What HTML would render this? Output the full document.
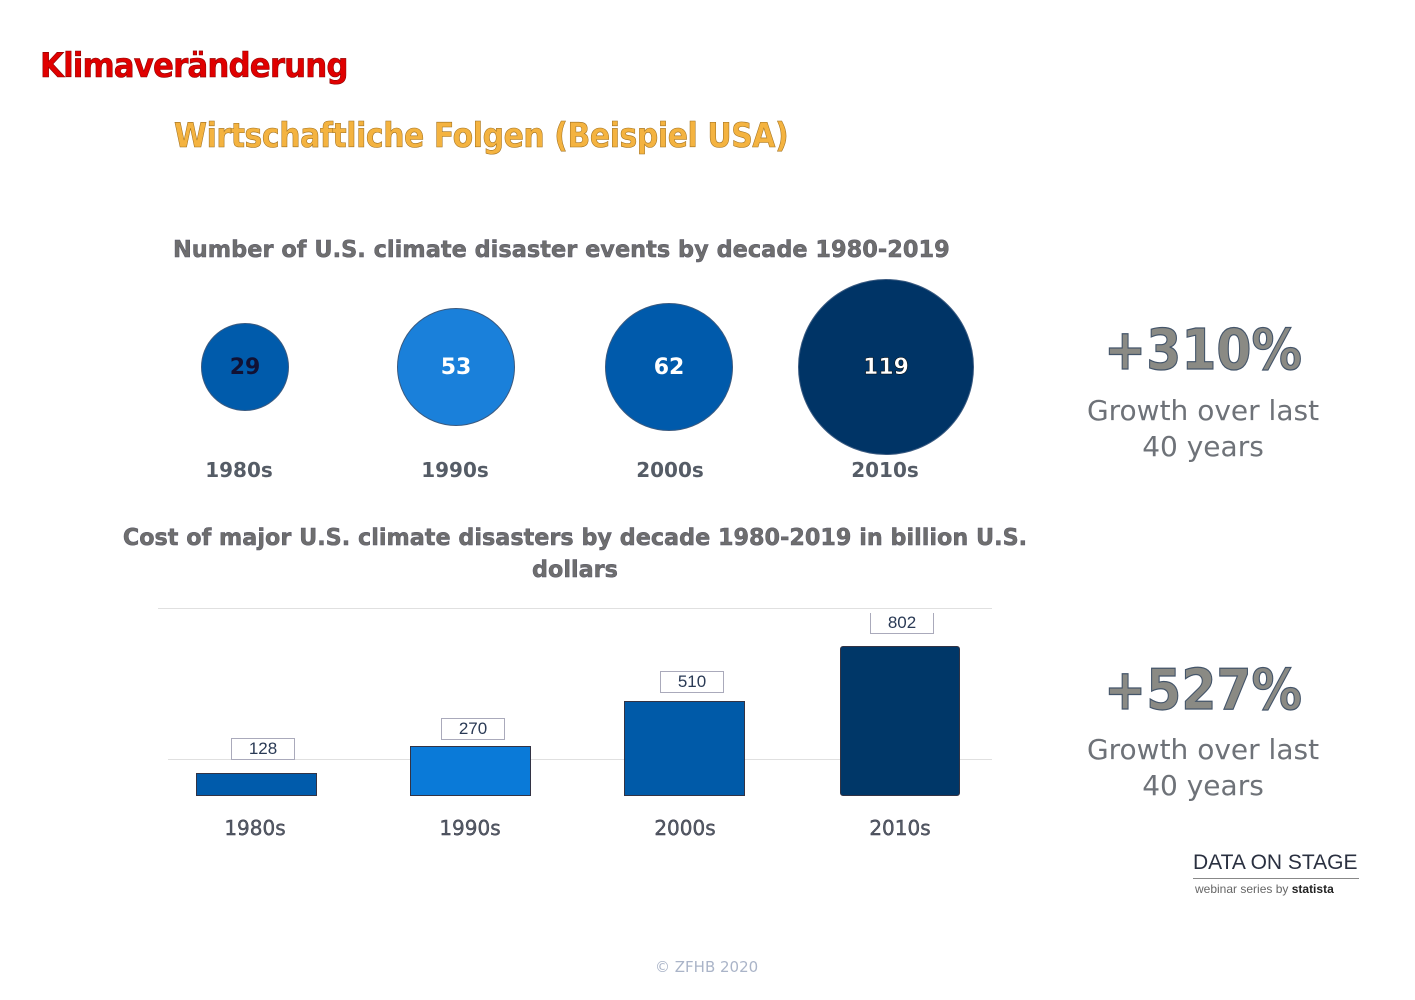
<!DOCTYPE html>
<html><head><meta charset="utf-8"><style>
body{margin:0;width:1415px;height:1000px;background:#fff;position:relative;overflow:hidden;font-family:"DejaVu Sans","Liberation Sans",sans-serif;}
.a{position:absolute;white-space:nowrap}
.c{position:absolute;border-radius:50%;display:flex;align-items:center;justify-content:center;color:#fff;font-weight:bold;font-size:22px;box-sizing:border-box;border:1px solid #3a5a80}
.t{color:#6e6e6e;font-weight:bold;font-size:23px;-webkit-text-stroke:0.5px #556}
.lab{color:#555c66;font-size:20px;font-weight:bold;text-align:center;width:120px}
.bar{position:absolute;border:1px solid #334}
.box{position:absolute;border:1px solid #aab;color:#2a3a55;font-size:17px;text-align:center;height:20px;line-height:20px;font-family:"Liberation Sans Narrow","Liberation Sans",sans-serif;background:#fff}
.big{color:#8a8a84;font-weight:bold;font-size:56px;-webkit-text-stroke:1.2px #44556a;text-align:center;width:300px;transform:scaleX(0.9)}
.gr{color:#6e7278;font-size:28px;text-align:center;width:300px;line-height:36px}
.hl{position:absolute;height:1px;background:#e0e0e0}
</style></head><body>
<div class="a" style="left:40px;top:46px;font-size:34px;font-weight:bold;color:#e00000;-webkit-text-stroke:0.6px #800;letter-spacing:-1px;transform:scaleX(0.91);transform-origin:left">Klimaveränderung</div>
<div class="a" style="left:174px;top:116px;font-size:34px;font-weight:bold;color:#f4b340;-webkit-text-stroke:0.6px #a07020;letter-spacing:-0.5px;transform:scaleX(0.88);transform-origin:left">Wirtschaftliche Folgen (Beispiel USA)</div>
<div class="a t" style="left:173px;top:237px;transform:scaleX(0.976);transform-origin:left">Number of U.S. climate disaster events by decade 1980-2019</div>
<div class="c" style="left:201px;top:323px;width:88px;height:88px;background:#005bab;color:#113">29</div>
<div class="c" style="left:397px;top:308px;width:118px;height:118px;background:#1a80da">53</div>
<div class="c" style="left:605px;top:303px;width:128px;height:128px;background:#005aab">62</div>
<div class="c" style="left:798px;top:279px;width:176px;height:176px;background:#003466;-webkit-text-stroke:0.5px #000">119</div>
<div class="a lab" style="left:179px;top:458px">1980s</div>
<div class="a lab" style="left:395px;top:458px">1990s</div>
<div class="a lab" style="left:610px;top:458px">2000s</div>
<div class="a lab" style="left:825px;top:458px">2010s</div>
<div class="a big" style="left:1053px;top:318px">+310%</div>
<div class="a gr" style="left:1053px;top:393px">Growth over last<br>40 years</div>
<div class="a t" style="left:75px;top:525px;width:1000px;text-align:center;transform:scaleX(0.97)">Cost of major U.S. climate disasters by decade 1980-2019 in billion U.S.</div>
<div class="a t" style="left:75px;top:557px;width:1000px;text-align:center;transform:scaleX(0.97)">dollars</div>
<div class="hl" style="left:158px;top:608px;width:834px"></div>
<div class="hl" style="left:168px;top:759px;width:824px"></div>
<div class="bar" style="left:196px;top:773px;width:119px;height:21px;background:#005bab"></div>
<div class="bar" style="left:410px;top:746px;width:119px;height:48px;background:#0a7ad8"></div>
<div class="bar" style="left:624px;top:701px;width:119px;height:93px;background:#005aa8"></div>
<div class="bar" style="left:840px;top:646px;width:118px;height:148px;background:#003768;border-radius:3px"></div>
<div class="box" style="left:231px;top:738px;width:62px">128</div>
<div class="box" style="left:441px;top:718px;width:62px">270</div>
<div class="box" style="left:660px;top:671px;width:62px">510</div>
<div class="box" style="left:870px;top:613px;width:62px;border-top:none">802</div>
<div class="a lab" style="left:195px;top:816px;font-weight:normal;-webkit-text-stroke:0.4px #334">1980s</div>
<div class="a lab" style="left:410px;top:816px;font-weight:normal;-webkit-text-stroke:0.4px #334">1990s</div>
<div class="a lab" style="left:625px;top:816px;font-weight:normal;-webkit-text-stroke:0.4px #334">2000s</div>
<div class="a lab" style="left:840px;top:816px;font-weight:normal;-webkit-text-stroke:0.4px #334">2010s</div>
<div class="a big" style="left:1053px;top:658px">+527%</div>
<div class="a gr" style="left:1053px;top:732px">Growth over last<br>40 years</div>
<div class="a" style="left:1193px;top:851px;font-size:21px;color:#2a3040;font-family:'Liberation Sans',sans-serif">DATA ON STAGE</div>
<div class="hl" style="left:1193px;top:878px;width:166px;background:#888"></div>
<div class="a" style="left:1195px;top:882px;font-size:12px;color:#666;font-family:'Liberation Sans',sans-serif">webinar series by <b style="color:#222">statista</b></div>
<div class="a" style="left:655px;top:958px;font-size:15px;color:#aab4c8">© ZFHB 2020</div>
</body></html>
